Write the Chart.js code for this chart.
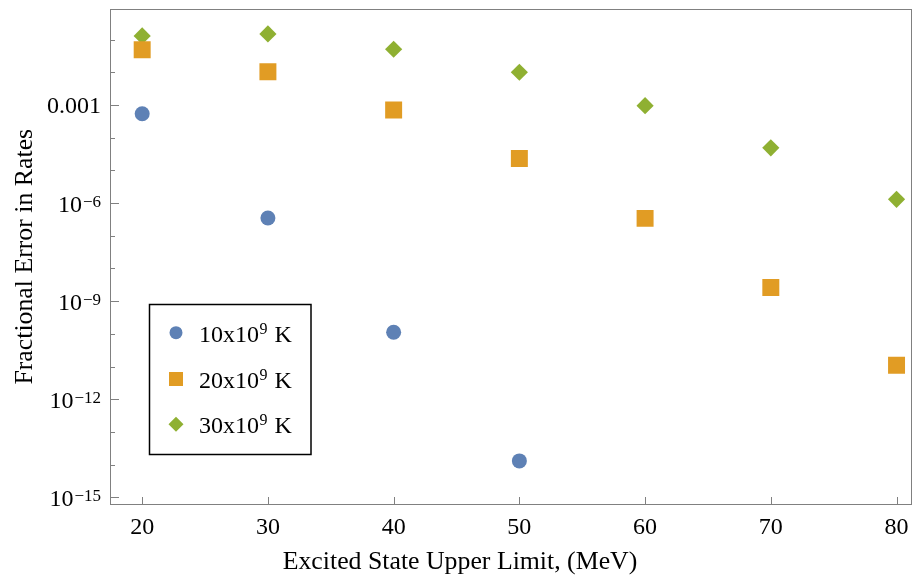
<!DOCTYPE html>
<html>
<head>
<meta charset="utf-8">
<script src="https://cdn.jsdelivr.net/npm/chart.js@4/dist/chart.umd.min.js"></script>
<style>
  html, body { margin: 0; padding: 0; background: #ffffff; }
  #wrap { position: relative; width: 912px; height: 575px; }
</style>
</head>
<body>
<div id="wrap"><canvas id="c" width="912" height="575"></canvas></div>
<script>
// Excited-state upper limit (MeV)
const limits10 = [20, 30, 40, 50];
const limits = [20, 30, 40, 50, 60, 70, 80];

// Fractional error in rates at each temperature
const err10 = [5.4e-4, 3.5e-7, 1.12e-10, 1.3e-14];
const err20 = [0.049, 0.0104, 7.0e-4, 2.3e-5, 3.4e-7, 2.6e-9, 1.1e-11];
const err30 = [0.129, 0.149, 0.0506, 0.0100, 9.5e-4, 4.9e-5, 1.3e-6];

const seriesNames = [['10x10', '9', ' K'], ['20x10', '9', ' K'], ['30x10', '9', ' K']];

const xTickValues = [20, 30, 40, 50, 60, 70, 80];
const yTickValues = [1e-3, 1e-6, 1e-9, 1e-12, 1e-15];
const yTickLabels = [['0.001', ''], ['10', '\u22126'], ['10', '\u22129'], ['10', '\u221212'], ['10', '\u221215']];
const yMinorValues = [1e-1, 1e-2, 1e-4, 1e-5, 1e-7, 1e-8, 1e-10, 1e-11, 1e-13, 1e-14];

const xTitle = 'Excited State Upper Limit, (MeV)';
const yTitle = 'Fractional Error in Rates';

const BLUE = '#5E81B5', ORANGE = '#E19C24', GREEN = '#8FB032';
const FRAME = '#808080';
const FONT = 'Liberation Serif';

function pts(xs, ys) { return xs.map((x, i) => ({ x: x, y: ys[i] })); }

// frame, inward ticks, log labels, titles and legend
const decor = {
  id: 'decor',
  afterDraw(chart) {
    const ctx = chart.ctx;
    const a = chart.chartArea;
    const xs = chart.scales.x, ys = chart.scales.y;
    ctx.save();
    ctx.strokeStyle = FRAME;
    ctx.lineWidth = 1;
    ctx.beginPath();
    const topY = Math.floor(a.top) + 0.5;
    const rightX = Math.round(a.right) + 0.5;
    ctx.moveTo(a.left, topY);
    ctx.lineTo(rightX + 0.5, topY);
    ctx.moveTo(rightX, topY);
    ctx.lineTo(rightX, a.bottom + 1);
    // y ticks
    yTickValues.forEach(v => {
      const y = Math.round(ys.getPixelForValue(v)) + 0.5;
      ctx.moveTo(a.left, y); ctx.lineTo(a.left + 9, y);
    });
    yMinorValues.forEach(v => {
      const y = Math.round(ys.getPixelForValue(v)) + 0.5;
      ctx.moveTo(a.left, y); ctx.lineTo(a.left + 5, y);
    });
    // x ticks
    xTickValues.forEach(v => {
      const x = Math.round(xs.getPixelForValue(v)) + 0.5;
      ctx.moveTo(x, a.bottom); ctx.lineTo(x, a.bottom - 7);
    });
    ctx.stroke();

    // y tick labels with superscript exponents
    ctx.fillStyle = '#000';
    ctx.textBaseline = 'alphabetic';
    ctx.textAlign = 'left';
    const right = a.left - 9;
    yTickValues.forEach((v, i) => {
      const [base, sup] = yTickLabels[i];
      const y = ys.getPixelForValue(v) + 8.5;
      ctx.font = '24px "' + FONT + '"';
      const wb = ctx.measureText(base).width;
      ctx.font = '17px "' + FONT + '"';
      const ws = sup ? ctx.measureText(sup).width + 1 : 0;
      const x0 = right - wb - ws;
      ctx.font = '24px "' + FONT + '"';
      ctx.fillText(base, x0, y);
      if (sup) {
        ctx.font = '17px "' + FONT + '"';
        ctx.fillText(sup, x0 + wb + 1, y - 5);
      }
    });

    // axis titles
    ctx.font = '25.8px "' + FONT + '"';
    ctx.textAlign = 'center';
    ctx.fillText(xTitle, 460, 569);
    ctx.save();
    ctx.translate(32, (a.top + a.bottom) / 2);
    ctx.rotate(-Math.PI / 2);
    ctx.fillText(yTitle, 0, 0);
    ctx.restore();

    // legend box
    ctx.strokeStyle = '#000';
    ctx.lineWidth = 1.5;
    ctx.strokeRect(149.5, 304.5, 161.5, 150);
    const mx = 176;
    const rows = [332.7, 379, 424.3];
    // circle
    ctx.fillStyle = BLUE;
    ctx.beginPath(); ctx.arc(mx, rows[0], 6.5, 0, Math.PI * 2); ctx.fill();
    // square
    ctx.fillStyle = ORANGE;
    ctx.fillRect(mx - 7, rows[1] - 7, 14, 14);
    // diamond
    ctx.fillStyle = GREEN;
    ctx.beginPath();
    ctx.moveTo(mx, rows[2] - 7.5); ctx.lineTo(mx + 7.5, rows[2]);
    ctx.lineTo(mx, rows[2] + 7.5); ctx.lineTo(mx - 7.5, rows[2]);
    ctx.closePath(); ctx.fill();
    ctx.fillStyle = '#000';
    ctx.textAlign = 'left';
    seriesNames.forEach((parts, i) => {
      const y = rows[i] + 9;
      let x = 199;
      ctx.font = '24px "' + FONT + '"';
      ctx.fillText(parts[0], x, y);
      x += ctx.measureText(parts[0]).width + 0.5;
      ctx.font = '16px "' + FONT + '"';
      ctx.fillText(parts[1], x, y - 8);
      x += ctx.measureText(parts[1]).width + 1;
      ctx.font = '24px "' + FONT + '"';
      ctx.fillText(parts[2], x, y);
    });
    ctx.restore();
  }
};

new Chart(document.getElementById('c'), {
  type: 'scatter',
  data: {
    datasets: [
      { label: '10x10^9 K', data: pts(limits10, err10), pointStyle: 'circle', pointRadius: 7.5,
        backgroundColor: BLUE, borderWidth: 0 },
      { label: '20x10^9 K', data: pts(limits, err20), pointStyle: 'rect', pointRadius: 12,
        backgroundColor: ORANGE, borderWidth: 0 },
      { label: '30x10^9 K', data: pts(limits, err30), pointStyle: 'rectRot', pointRadius: 8.6,
        backgroundColor: GREEN, borderWidth: 0 }
    ]
  },
  options: {
    responsive: false,
    animation: false,
    layout: { autoPadding: false, padding: { left: 0, right: 1, top: 9.5, bottom: 0 } },
    plugins: { legend: { display: false }, tooltip: { enabled: false } },
    elements: { point: { hoverRadius: 0 } },
    scales: {
      x: {
        type: 'linear',
        min: 17.44, max: 81.15,
        afterBuildTicks: s => { s.ticks = xTickValues.map(v => ({ value: v })); },
        afterFit: s => { s.height = 71; s.paddingLeft = 0; s.paddingRight = 0; },
        grid: { display: false, drawTicks: false },
        border: { display: true, color: FRAME, width: 1 },
        ticks: { color: '#000', padding: 9, maxRotation: 0, autoSkip: false,
                 font: { family: FONT, size: 24 } }
      },
      y: {
        type: 'logarithmic',
        min: Math.pow(10, -15.205), max: Math.pow(10, -0.08),
        afterFit: s => { s.width = 110; s.paddingTop = 0; s.paddingBottom = 0; },
        grid: { display: false, drawTicks: false },
        border: { display: true, color: FRAME, width: 1 },
        ticks: { display: false }
      }
    }
  },
  plugins: [decor]
});
</script>
</body>
</html>
